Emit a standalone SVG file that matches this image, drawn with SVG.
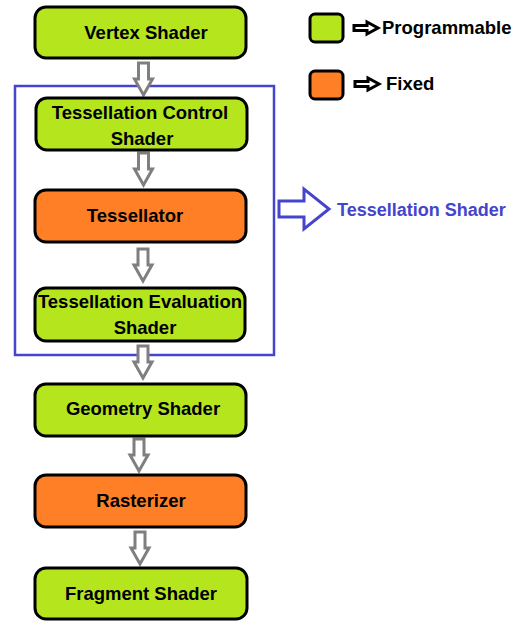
<svg xmlns="http://www.w3.org/2000/svg" width="527" height="621" viewBox="0 0 527 621">
<style>
.box{stroke:#000;stroke-width:3}
.prog{fill:#b5e61d}
.fixed{fill:#ff7f27}
.t{font-family:"Liberation Sans",Arial,sans-serif;font-weight:bold;font-size:18.5px;fill:#000;text-anchor:middle}
.lt{font-family:"Liberation Sans",Arial,sans-serif;font-weight:bold;font-size:18.5px;fill:#000}
.gar{fill:#fff;stroke:#7f7f7f;stroke-width:3;stroke-linejoin:miter}
.bar{fill:#fff;stroke:#000;stroke-width:3}
</style>
<defs>
<path id="dn" d="M-5,0 H5 V16 H9 L0,32 L-9,16 H-5 Z"/>
</defs>
<rect x="0" y="0" width="527" height="621" fill="#fff"/>
<g id="tess-group">
<rect x="15" y="86" width="259" height="269" fill="none" stroke="#4444cc" stroke-width="2.5"/>
</g>
<g id="connectors">
<use href="#dn" class="gar" x="143.5" y="63"/>
<use href="#dn" class="gar" x="143.5" y="153"/>
<use href="#dn" class="gar" x="143" y="249"/>
<use href="#dn" class="gar" x="143" y="346"/>
<use href="#dn" class="gar" x="139" y="439"/>
<use href="#dn" class="gar" x="140" y="532"/>
<path d="M279,201 H304 V189 L329,209 L304,229 V217 H279 Z" fill="#fff" stroke="#4444cc" stroke-width="3"/>
</g>
<g id="vertex"><rect class="box prog" x="35" y="7" width="211" height="51" rx="11"/><text class="t" x="146" y="39">Vertex Shader</text></g>
<g id="tcs"><rect class="box prog" x="36" y="98" width="211" height="52" rx="11"/><text class="t" x="140" y="119">Tessellation Control</text><text class="t" x="142" y="145">Shader</text></g>
<g id="tessellator"><rect class="box fixed" x="35" y="190" width="211" height="52" rx="11"/><text class="t" x="135" y="222">Tessellator</text></g>
<g id="tes"><rect class="box prog" x="35" y="288" width="210" height="53" rx="11"/><text class="t" x="140" y="308">Tessellation Evaluation</text><text class="t" x="145" y="334">Shader</text></g>
<g id="geometry"><rect class="box prog" x="35" y="384" width="211" height="52" rx="11"/><text class="t" x="143" y="415">Geometry Shader</text></g>
<g id="rasterizer"><rect class="box fixed" x="35" y="475" width="211" height="52" rx="11"/><text class="t" x="141" y="507">Rasterizer</text></g>
<g id="fragment"><rect class="box prog" x="35" y="568" width="212" height="51" rx="11"/><text class="t" x="141" y="600">Fragment Shader</text></g>
<g id="legend">
<rect class="box prog" x="310" y="14" width="33" height="28" rx="5"/>
<rect class="box fixed" x="310" y="71" width="33" height="28" rx="5"/>
<path class="bar" d="M354,25.5 H367 V22 L378,28 L367,34 V30.5 H354 Z"/>
<path class="bar" d="M355,81.5 H368 V78 L379,84 L368,90 V86.5 H355 Z"/>
<text class="lt" x="382" y="34">Programmable</text>
<text class="lt" x="386" y="90">Fixed</text>
<text x="337" y="216" font-family="Liberation Sans,Arial,sans-serif" font-weight="bold" font-size="18" fill="#4444cc">Tessellation Shader</text>
</g>
</svg>
